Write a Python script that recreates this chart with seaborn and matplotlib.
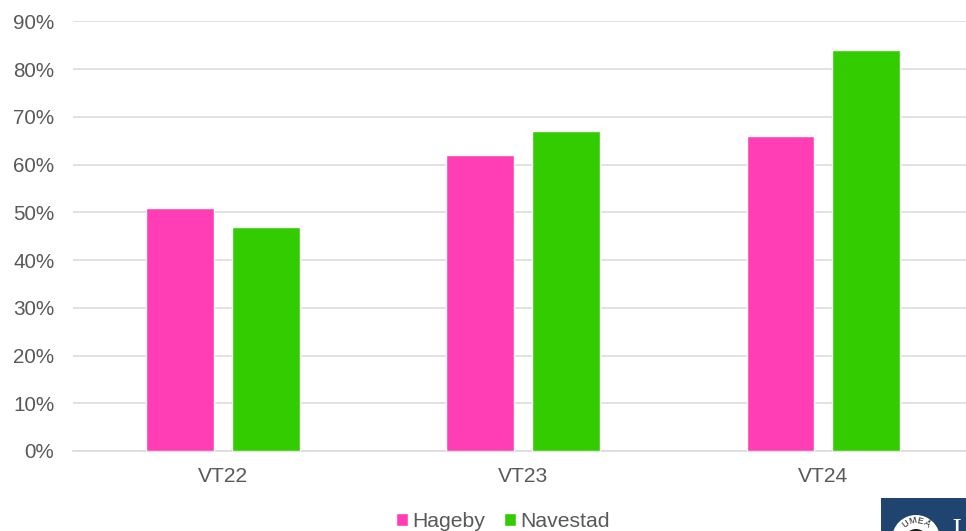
import numpy as np
import pandas as pd
import matplotlib
matplotlib.use("Agg")
import matplotlib.pyplot as plt
from matplotlib.patches import Rectangle, Circle
import seaborn as sns

terms = ["VT22", "VT23", "VT24"]
hageby = [51, 62, 66]
navestad = [47, 67, 84]
series_names = ["Hageby", "Navestad"]
series_colors = ["#FF3EB5", "#33CC00"]
y_ticks = list(range(0, 100, 10))

W, H = 966, 531
TEXT = "#595959"
GRID = "#D9D9D9"

sns.set_theme(style="white")
plt.rcParams["font.family"] = ["Liberation Sans", "DejaVu Sans"]

df = pd.DataFrame({
    "term": terms * 2,
    "school": [series_names[0]] * 3 + [series_names[1]] * 3,
    "share": hageby + navestad,
})

fig = plt.figure(figsize=(W / 100, H / 100), dpi=100, facecolor="white")
# the plot area runs slightly past the right edge of the canvas
ax = fig.add_axes([73 / W, 1 - 451 / H, 900.5 / W, 429.7 / H])

sns.barplot(data=df, x="term", y="share", hue="school", order=terms,
            hue_order=series_names, palette=series_colors, width=0.572,
            gap=0.21, saturation=1, ax=ax, zorder=3, clip_on=True)

ax.set_xlim(-0.5, 2.5)
ax.set_ylim(0, 90)
ax.set_yticks(y_ticks)
ax.set_yticklabels([f"{v}%" for v in y_ticks])
ax.set_xlabel("")
ax.set_ylabel("")
ax.tick_params(axis="y", length=0, pad=13.5, labelsize=14.9, labelcolor=TEXT)
ax.tick_params(axis="x", length=0, pad=11.5, labelsize=15.1, labelcolor=TEXT)
ax.grid(axis="y", color=GRID, linewidth=1.1, zorder=0)
ax.set_axisbelow(True)
for side in ["top", "left", "right"]:
    ax.spines[side].set_visible(False)
ax.spines["bottom"].set_color(GRID)
ax.spines["bottom"].set_linewidth(1.1)

handles, labels = ax.get_legend_handles_labels()
ax.get_legend().remove()
fig.legend(handles, labels, ncol=2, loc="center",
           bbox_to_anchor=(502.5 / W, 1 - 521.5 / H),
           frameon=False, fontsize=15.2, labelcolor=TEXT,
           handlelength=0.57, handleheight=0.57, handletextpad=0.2,
           columnspacing=0.9, borderpad=0, borderaxespad=0)

# university badge cut off by the lower right corner
def px(x, y):
    return x / W, 1 - y / H

NAVY = "#1F4470"
fig.add_artist(Rectangle(px(881, 531), 85 / W, 33 / H, transform=fig.transFigure,
                         facecolor=NAVY, edgecolor="none", zorder=5))
seal = fig.add_axes([0, 0, 1, 1], facecolor="none", zorder=6)
seal.set_xlim(0, W)
seal.set_ylim(H, 0)
seal.axis("off")
seal.add_patch(Circle((916, 539), 24, facecolor="white", edgecolor="none"))
seal.add_patch(Circle((916, 541), 12, facecolor="#1A1A1A", edgecolor="none"))
for letter, angle in zip("UMEÅ", [-36, -12, 12, 36]):
    a = np.deg2rad(angle)
    seal.text(916 + 18.5 * np.sin(a), 539 - 18.5 * np.cos(a), letter,
              fontsize=6.5, color="#222222", rotation=-angle,
              ha="center", va="center", fontfamily="Liberation Sans")
seal.text(952, 537, "U", fontsize=20, color="white", ha="left", va="baseline",
          fontfamily="Liberation Serif")

fig.savefig("out.png", dpi=100)
